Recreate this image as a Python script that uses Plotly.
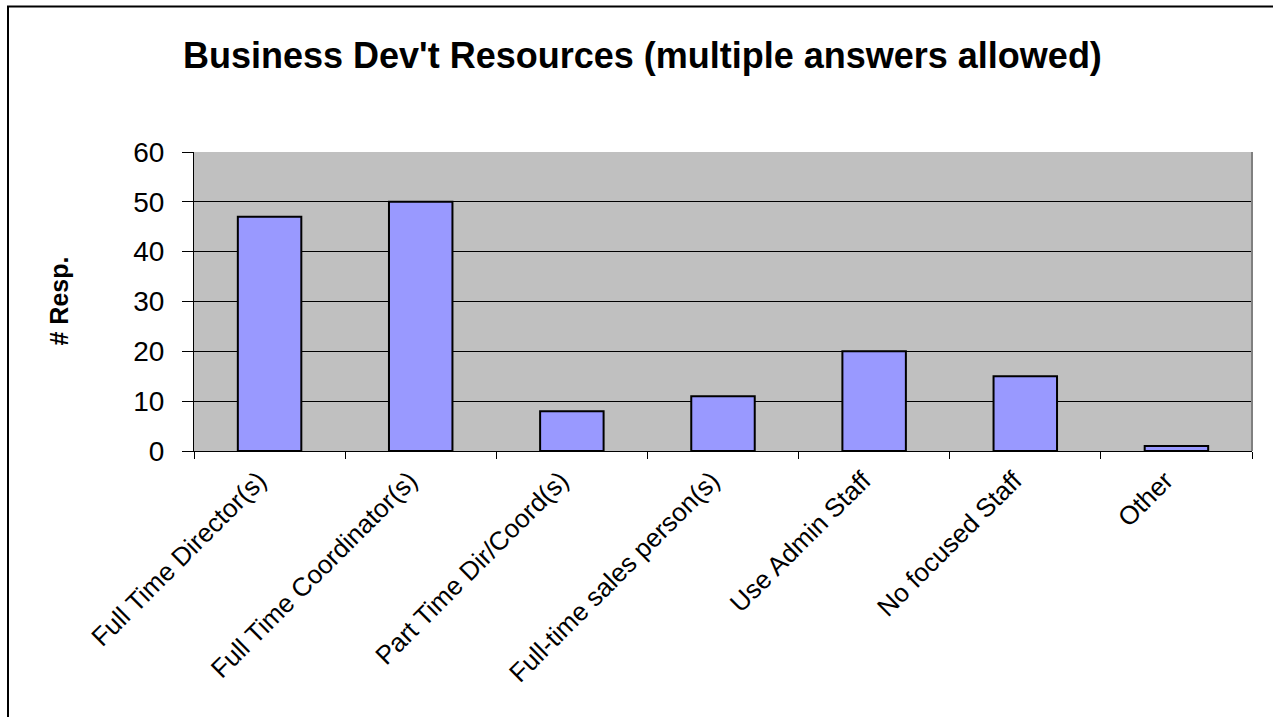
import plotly.graph_objects as go

# Survey categories and response counts
categories = [
    "Full Time Director(s)",
    "Full Time Coordinator(s)",
    "Part Time Dir/Coord(s)",
    "Full-time sales person(s)",
    "Use Admin Staff",
    "No focused Staff",
    "Other",
]
responses = [47, 50, 8, 11, 20, 15, 1]
y_ticks = [0, 10, 20, 30, 40, 50, 60]

W, H = 1273, 717
L, R, T, B = 194, 21, 152, 266
pw, ph = W - L - R, H - T - B


def px_x(x):
    return (x - L) / pw


def px_y(y):
    return 1 - (y - T) / ph


fig = go.Figure(
    go.Bar(
        x=categories,
        y=responses,
        marker=dict(color="#9999FF", line=dict(color="black", width=2)),
        width=0.42,
    )
)

font = "Arial, Liberation Sans, sans-serif"

fig.update_layout(
    width=W,
    height=H,
    margin=dict(l=L, r=R, t=T, b=B),
    paper_bgcolor="white",
    plot_bgcolor="#C0C0C0",
    showlegend=False,
    font=dict(family=font, color="black"),
    xaxis=dict(
        type="category",
        tickson="boundaries",
        ticks="outside",
        ticklen=7,
        tickcolor="black",
        tickangle=-45,
        tickfont=dict(size=26, family=font),
        ticklabelshift=-11,
        ticklabelstandoff=3,
        showline=True,
        linecolor="black",
        linewidth=1,
        showgrid=False,
        mirror=False,
    ),
    yaxis=dict(
        range=[0, 60],
        tickvals=y_ticks,
        ticks="outside",
        ticklen=11,
        tickcolor="black",
        tickfont=dict(size=28, family=font),
        ticklabelstandoff=12,
        showline=True,
        linecolor="black",
        linewidth=1,
        showgrid=True,
        gridcolor="black",
        gridwidth=1,
        zeroline=False,
    ),
    annotations=[
        dict(
            text="<b>Business Dev't Resources (multiple answers allowed)</b>",
            x=px_x(642), y=px_y(55), xref="paper", yref="paper",
            showarrow=False, font=dict(size=36, family=font),
            xanchor="center", yanchor="middle",
        ),
        dict(
            text="<b># Resp.</b>",
            x=px_x(58), y=0.5, xref="paper", yref="paper",
            showarrow=False, textangle=-90, font=dict(size=25, family=font),
            xanchor="center", yanchor="middle",
        ),
    ],
    shapes=[
        # right edge of the plot area
        dict(type="line", xref="paper", yref="paper", x0=1, x1=1, y0=0, y1=1,
             line=dict(color="#808080", width=2)),
        # outer frame
        dict(type="rect", xref="paper", yref="paper",
             x0=px_x(8), x1=px_x(1400), y0=px_y(800), y1=px_y(6.5),
             line=dict(color="black", width=2), fillcolor="rgba(0,0,0,0)"),
    ],
)

fig.write_html("out.html")
